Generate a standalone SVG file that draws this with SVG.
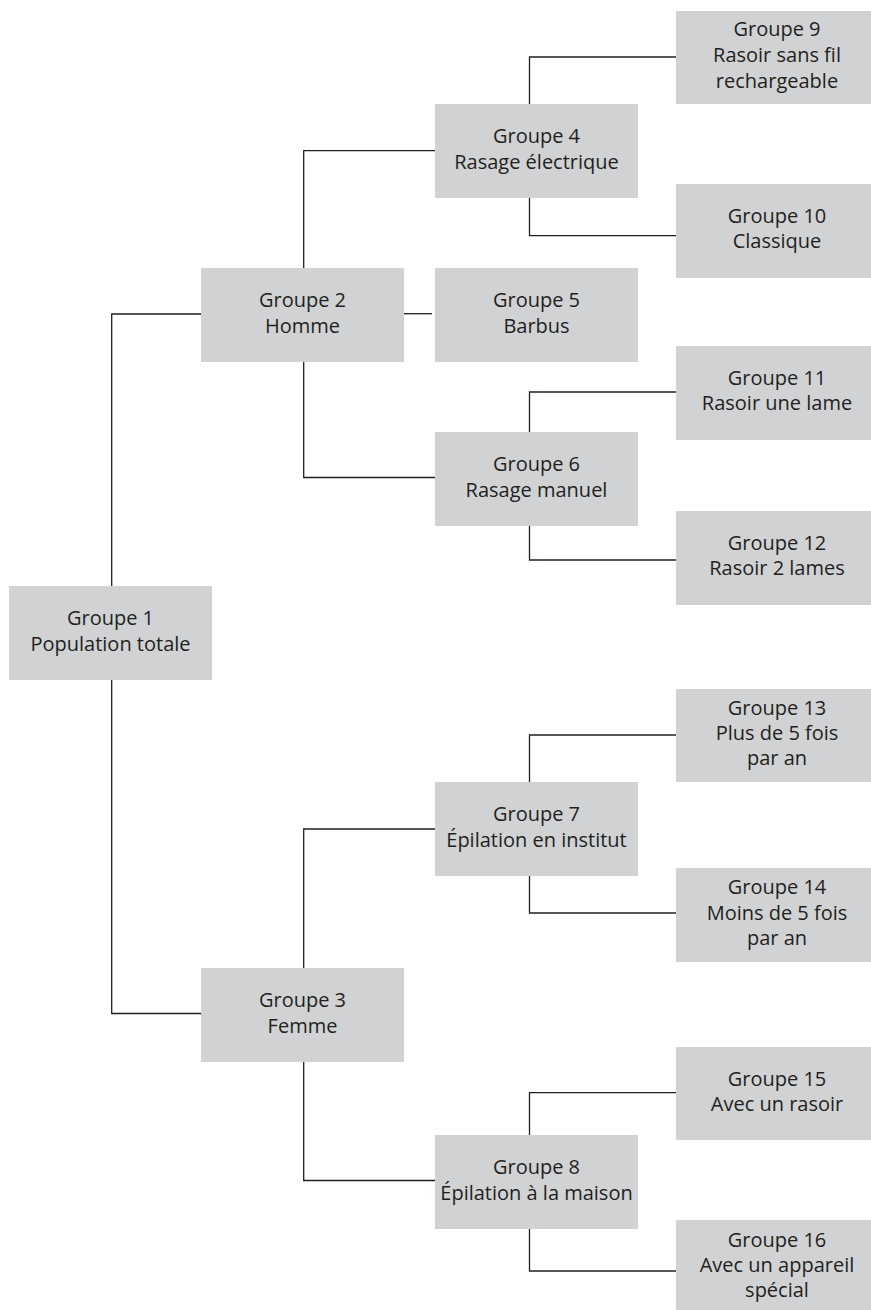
<svg xmlns="http://www.w3.org/2000/svg" width="871" height="1310" viewBox="0 0 871 1310">
  <style>
    .box { fill: #d1d2d4; }
    .lbl { font-family: "Open Sans", "Noto Sans", "Liberation Sans", sans-serif; font-size: 20px; fill: #231f20; text-anchor: middle; }
    .wire { fill: none; stroke: #231f20; stroke-width: 1.3; }
  </style>
  <rect width="871" height="1310" fill="#ffffff"/>

  <!-- tree connectors -->
  <g id="connectors">
    <path class="wire" d="M111.7 586 V314 H201"/>
    <path class="wire" d="M111.7 680 V1013.5 H201"/>
    <path class="wire" d="M303.7 268 V150.7 H435"/>
    <path class="wire" d="M404 313.7 H432"/>
    <path class="wire" d="M303.7 362 V477.5 H435"/>
    <path class="wire" d="M303.7 968 V829 H435"/>
    <path class="wire" d="M303.7 1062 V1180.5 H435"/>
    <path class="wire" d="M529.5 104 V57 H676"/>
    <path class="wire" d="M529.5 198 V235.7 H676"/>
    <path class="wire" d="M529.5 432 V392 H676"/>
    <path class="wire" d="M529.5 526 V560 H676"/>
    <path class="wire" d="M529.5 782 V735 H676"/>
    <path class="wire" d="M529.5 876 V913 H676"/>
    <path class="wire" d="M529.5 1135 V1092.7 H676"/>
    <path class="wire" d="M529.5 1229 V1271 H676"/>
  </g>

  <g id="g1"><rect class="box" x="9" y="586" width="203" height="94"/>
    <text class="lbl"><tspan x="110.5" y="625">Groupe 1</tspan><tspan x="110.5" y="651">Population totale</tspan></text></g>
  <g id="g2"><rect class="box" x="201" y="268" width="203" height="94"/>
    <text class="lbl"><tspan x="302.5" y="307">Groupe 2</tspan><tspan x="302.5" y="333">Homme</tspan></text></g>
  <g id="g3"><rect class="box" x="201" y="968" width="203" height="94"/>
    <text class="lbl"><tspan x="302.5" y="1007">Groupe 3</tspan><tspan x="302.5" y="1033">Femme</tspan></text></g>
  <g id="g4"><rect class="box" x="435" y="104" width="203" height="94"/>
    <text class="lbl"><tspan x="536.5" y="143">Groupe 4</tspan><tspan x="536.5" y="169">Rasage électrique</tspan></text></g>
  <g id="g5"><rect class="box" x="435" y="268" width="203" height="94"/>
    <text class="lbl"><tspan x="536.5" y="307">Groupe 5</tspan><tspan x="536.5" y="333">Barbus</tspan></text></g>
  <g id="g6"><rect class="box" x="435" y="432" width="203" height="94"/>
    <text class="lbl"><tspan x="536.5" y="471">Groupe 6</tspan><tspan x="536.5" y="497">Rasage manuel</tspan></text></g>
  <g id="g7"><rect class="box" x="435" y="782" width="203" height="94"/>
    <text class="lbl"><tspan x="536.5" y="821">Groupe 7</tspan><tspan x="536.5" y="847">Épilation en institut</tspan></text></g>
  <g id="g8"><rect class="box" x="435" y="1135" width="203" height="94"/>
    <text class="lbl"><tspan x="536.5" y="1174">Groupe 8</tspan><tspan x="536.5" y="1200">Épilation à la maison</tspan></text></g>
  <g id="g9"><rect class="box" x="676" y="11" width="202" height="93"/>
    <text class="lbl"><tspan x="777" y="36">Groupe 9</tspan><tspan x="777" y="62">Rasoir sans fil</tspan><tspan x="777" y="87.5">rechargeable</tspan></text></g>
  <g id="g10"><rect class="box" x="676" y="184" width="202" height="94"/>
    <text class="lbl"><tspan x="777" y="222.5">Groupe 10</tspan><tspan x="777" y="248">Classique</tspan></text></g>
  <g id="g11"><rect class="box" x="676" y="346" width="202" height="94"/>
    <text class="lbl"><tspan x="777" y="384.5">Groupe 11</tspan><tspan x="777" y="410">Rasoir une lame</tspan></text></g>
  <g id="g12"><rect class="box" x="676" y="511" width="202" height="94"/>
    <text class="lbl"><tspan x="777" y="549.5">Groupe 12</tspan><tspan x="777" y="575">Rasoir 2 lames</tspan></text></g>
  <g id="g13"><rect class="box" x="676" y="689" width="202" height="93"/>
    <text class="lbl"><tspan x="777" y="714.5">Groupe 13</tspan><tspan x="777" y="740">Plus de 5 fois</tspan><tspan x="777" y="765">par an</tspan></text></g>
  <g id="g14"><rect class="box" x="676" y="868" width="202" height="94"/>
    <text class="lbl"><tspan x="777" y="894">Groupe 14</tspan><tspan x="777" y="919.5">Moins de 5 fois</tspan><tspan x="777" y="944.5">par an</tspan></text></g>
  <g id="g15"><rect class="box" x="676" y="1047" width="202" height="93"/>
    <text class="lbl"><tspan x="777" y="1085.5">Groupe 15</tspan><tspan x="777" y="1111">Avec un rasoir</tspan></text></g>
  <g id="g16"><rect class="box" x="676" y="1220" width="202" height="94"/>
    <text class="lbl"><tspan x="777" y="1246.5">Groupe 16</tspan><tspan x="777" y="1272">Avec un appareil</tspan><tspan x="777" y="1297">spécial</tspan></text></g>
</svg>
